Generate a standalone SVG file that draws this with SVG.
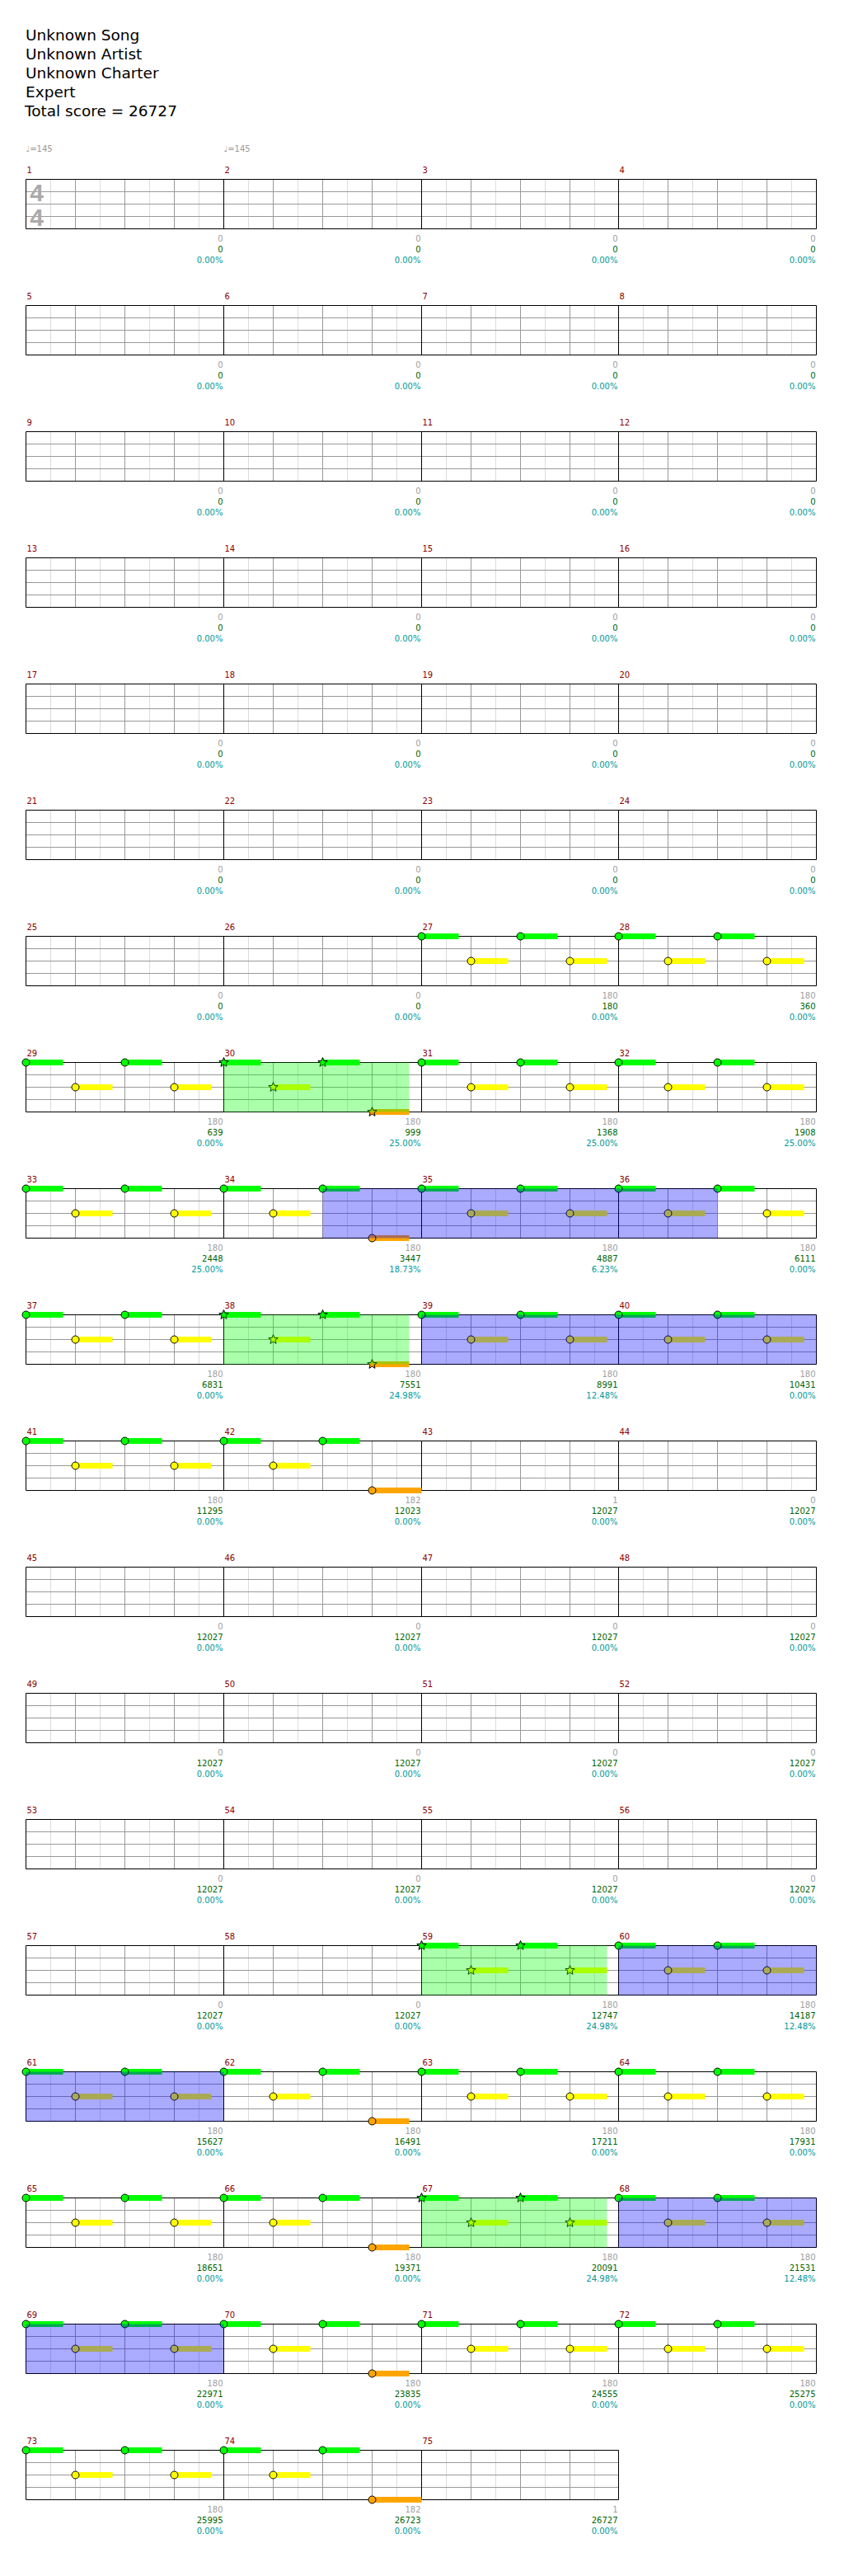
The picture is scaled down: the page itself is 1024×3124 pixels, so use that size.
<svg xmlns="http://www.w3.org/2000/svg" width="1024" height="3124" viewBox="0 0 1024 3124">
<style>
.t{font-family:"DejaVu Sans",sans-serif;font-size:18.5px;fill:#000}
.mn{font-family:"DejaVu Sans",sans-serif;font-size:10px;fill:#8b0000}
.tp{font-family:"DejaVu Sans",sans-serif;font-size:10px;fill:#999}
.ts{font-family:"Liberation Sans",sans-serif;font-weight:bold;font-size:30px;fill:#aaa;text-anchor:middle}
.a{font-family:"DejaVu Sans",sans-serif;font-size:10px;fill:#a0a0a0;text-anchor:end}
.b{font-family:"DejaVu Sans",sans-serif;font-size:10px;fill:#006400;text-anchor:end}
.c{font-family:"DejaVu Sans",sans-serif;font-size:10px;fill:#009999;text-anchor:end}
.lt{stroke:#dcdcdc;fill:none}
.gr{stroke:#999;fill:none}
.bk{stroke:#000;fill:none}
.ng{fill:#0f0;stroke:#000}
.ny{fill:#ff0;stroke:#000}
.no{fill:#ffa500;stroke:#000}
.tg{fill:#0f0}
.ty{fill:#ff0}
.to{fill:#ffa500}
.sp{fill:#0f0;fill-opacity:.333}
.bl{fill:#00f;fill-opacity:.333}
</style>
<defs>
<g id="g4">
<rect x="31.5" y="0" width="959" height="60" fill="#fff"/>
<path class="lt" d="M61.5 0v60M121.5 0v60M181.5 0v60M241.5 0v60M301.5 0v60M361.5 0v60M421.5 0v60M481.5 0v60M541.5 0v60M601.5 0v60M661.5 0v60M721.5 0v60M780.5 0v60M840.5 0v60M900.5 0v60M960.5 0v60"/>
<path class="gr" d="M31.5 15H990.5M31.5 30H990.5M31.5 45H990.5M91.5 0v60M151.5 0v60M211.5 0v60M331.5 0v60M391.5 0v60M451.5 0v60M571.5 0v60M631.5 0v60M691.5 0v60M810.5 0v60M870.5 0v60M930.5 0v60"/>
<path class="bk" d="M31.5 0H990.5V60H31.5ZM271.5 0v60M511.5 0v60M750.5 0v60"/>
</g>
<g id="g3">
<rect x="31.5" y="0" width="719" height="60" fill="#fff"/>
<path class="lt" d="M61.5 0v60M121.5 0v60M181.5 0v60M241.5 0v60M301.5 0v60M361.5 0v60M421.5 0v60M481.5 0v60M541.5 0v60M601.5 0v60M661.5 0v60M721.5 0v60"/>
<path class="gr" d="M31.5 15H750.5M31.5 30H750.5M31.5 45H750.5M91.5 0v60M151.5 0v60M211.5 0v60M331.5 0v60M391.5 0v60M451.5 0v60M571.5 0v60M631.5 0v60M691.5 0v60"/>
<path class="bk" d="M31.5 0H750.5V60H31.5ZM271.5 0v60M511.5 0v60"/>
</g>
<path id="st" d="M0-6L1.53-2.1L5.71-1.85L2.47.8L3.53 4.85L0 2.6L-3.53 4.85L-2.47.8L-5.71-1.85L-1.53-2.1Z"/>
<g id="pN">
<rect class="tg" x="0" y="-3.5" width="45" height="7"/>
<rect class="ty" x="60" y="26.5" width="45" height="7"/>
<rect class="tg" x="120" y="-3.5" width="45" height="7"/>
<rect class="ty" x="180" y="26.5" width="45" height="7"/>
<circle class="ng" cx="0" cy="0" r="4.5"/>
<circle class="ny" cx="60" cy="30" r="4.5"/>
<circle class="ng" cx="120" cy="0" r="4.5"/>
<circle class="ny" cx="180" cy="30" r="4.5"/>
</g>
<g id="pO45">
<rect class="tg" x="0" y="-3.5" width="45" height="7"/>
<rect class="ty" x="60" y="26.5" width="45" height="7"/>
<rect class="tg" x="120" y="-3.5" width="45" height="7"/>
<rect class="to" x="180" y="56.5" width="45" height="7"/>
<circle class="ng" cx="0" cy="0" r="4.5"/>
<circle class="ny" cx="60" cy="30" r="4.5"/>
<circle class="ng" cx="120" cy="0" r="4.5"/>
<circle class="no" cx="180" cy="60" r="4.5"/>
</g>
<g id="pO60">
<rect class="tg" x="0" y="-3.5" width="45" height="7"/>
<rect class="ty" x="60" y="26.5" width="45" height="7"/>
<rect class="tg" x="120" y="-3.5" width="45" height="7"/>
<rect class="to" x="180" y="56.5" width="60" height="7"/>
<circle class="ng" cx="0" cy="0" r="4.5"/>
<circle class="ny" cx="60" cy="30" r="4.5"/>
<circle class="ng" cx="120" cy="0" r="4.5"/>
<circle class="no" cx="180" cy="60" r="4.5"/>
</g>
<g id="pS1">
<rect class="tg" x="0" y="-3.5" width="45" height="7"/>
<rect class="ty" x="60" y="26.5" width="45" height="7"/>
<rect class="tg" x="120" y="-3.5" width="45" height="7"/>
<rect class="to" x="180" y="56.5" width="45" height="7"/>
<use href="#st" class="ng"/>
<use href="#st" x="60" y="30" class="ny"/>
<use href="#st" x="120" class="ng"/>
<use href="#st" x="180" y="60" class="no"/>
</g>
<g id="pS2">
<rect class="tg" x="0" y="-3.5" width="45" height="7"/>
<rect class="ty" x="60" y="26.5" width="45" height="7"/>
<rect class="tg" x="120" y="-3.5" width="45" height="7"/>
<rect class="ty" x="180" y="26.5" width="45" height="7"/>
<use href="#st" class="ng"/>
<use href="#st" x="60" y="30" class="ny"/>
<use href="#st" x="120" class="ng"/>
<use href="#st" x="180" y="30" class="ny"/>
</g>
</defs>

<g id="header">
<text class="t" x="31" y="49">Unknown Song</text>
<text class="t" x="31" y="72">Unknown Artist</text>
<text class="t" x="31" y="95">Unknown Charter</text>
<text class="t" x="31" y="117.5">Expert</text>
<text class="t" x="30" y="140.5">Total score = 26727</text>
</g>

<g id="row1" transform="translate(0,217.5)">
<use href="#g4"/>
<text class="tp" x="31.5" y="-33.5">♩=145</text>
<text class="tp" x="271.5" y="-33.5">♩=145</text>
<text class="ts" x="44.5" y="26.5">4</text>
<text class="ts" x="44.5" y="56.5">4</text>
<text class="mn" x="32.5" y="-8">1</text><text class="mn" x="272.5" y="-8">2</text><text class="mn" x="512.5" y="-8">3</text><text class="mn" x="751.5" y="-8">4</text>
<text class="a" x="270.5" y="75.5">0</text><text class="b" x="270.5" y="88.5">0</text><text class="c" x="270.5" y="101">0.00%</text>
<text class="a" x="510.5" y="75.5">0</text><text class="b" x="510.5" y="88.5">0</text><text class="c" x="510.5" y="101">0.00%</text>
<text class="a" x="749.5" y="75.5">0</text><text class="b" x="749.5" y="88.5">0</text><text class="c" x="749.5" y="101">0.00%</text>
<text class="a" x="989.5" y="75.5">0</text><text class="b" x="989.5" y="88.5">0</text><text class="c" x="989.5" y="101">0.00%</text>
</g>

<g id="row5" transform="translate(0,370.5)">
<use href="#g4"/>
<text class="mn" x="32.5" y="-8">5</text><text class="mn" x="272.5" y="-8">6</text><text class="mn" x="512.5" y="-8">7</text><text class="mn" x="751.5" y="-8">8</text>
<text class="a" x="270.5" y="75.5">0</text><text class="b" x="270.5" y="88.5">0</text><text class="c" x="270.5" y="101">0.00%</text>
<text class="a" x="510.5" y="75.5">0</text><text class="b" x="510.5" y="88.5">0</text><text class="c" x="510.5" y="101">0.00%</text>
<text class="a" x="749.5" y="75.5">0</text><text class="b" x="749.5" y="88.5">0</text><text class="c" x="749.5" y="101">0.00%</text>
<text class="a" x="989.5" y="75.5">0</text><text class="b" x="989.5" y="88.5">0</text><text class="c" x="989.5" y="101">0.00%</text>
</g>

<g id="row9" transform="translate(0,523.5)">
<use href="#g4"/>
<text class="mn" x="32.5" y="-8">9</text><text class="mn" x="272.5" y="-8">10</text><text class="mn" x="512.5" y="-8">11</text><text class="mn" x="751.5" y="-8">12</text>
<text class="a" x="270.5" y="75.5">0</text><text class="b" x="270.5" y="88.5">0</text><text class="c" x="270.5" y="101">0.00%</text>
<text class="a" x="510.5" y="75.5">0</text><text class="b" x="510.5" y="88.5">0</text><text class="c" x="510.5" y="101">0.00%</text>
<text class="a" x="749.5" y="75.5">0</text><text class="b" x="749.5" y="88.5">0</text><text class="c" x="749.5" y="101">0.00%</text>
<text class="a" x="989.5" y="75.5">0</text><text class="b" x="989.5" y="88.5">0</text><text class="c" x="989.5" y="101">0.00%</text>
</g>

<g id="row13" transform="translate(0,676.5)">
<use href="#g4"/>
<text class="mn" x="32.5" y="-8">13</text><text class="mn" x="272.5" y="-8">14</text><text class="mn" x="512.5" y="-8">15</text><text class="mn" x="751.5" y="-8">16</text>
<text class="a" x="270.5" y="75.5">0</text><text class="b" x="270.5" y="88.5">0</text><text class="c" x="270.5" y="101">0.00%</text>
<text class="a" x="510.5" y="75.5">0</text><text class="b" x="510.5" y="88.5">0</text><text class="c" x="510.5" y="101">0.00%</text>
<text class="a" x="749.5" y="75.5">0</text><text class="b" x="749.5" y="88.5">0</text><text class="c" x="749.5" y="101">0.00%</text>
<text class="a" x="989.5" y="75.5">0</text><text class="b" x="989.5" y="88.5">0</text><text class="c" x="989.5" y="101">0.00%</text>
</g>

<g id="row17" transform="translate(0,829.5)">
<use href="#g4"/>
<text class="mn" x="32.5" y="-8">17</text><text class="mn" x="272.5" y="-8">18</text><text class="mn" x="512.5" y="-8">19</text><text class="mn" x="751.5" y="-8">20</text>
<text class="a" x="270.5" y="75.5">0</text><text class="b" x="270.5" y="88.5">0</text><text class="c" x="270.5" y="101">0.00%</text>
<text class="a" x="510.5" y="75.5">0</text><text class="b" x="510.5" y="88.5">0</text><text class="c" x="510.5" y="101">0.00%</text>
<text class="a" x="749.5" y="75.5">0</text><text class="b" x="749.5" y="88.5">0</text><text class="c" x="749.5" y="101">0.00%</text>
<text class="a" x="989.5" y="75.5">0</text><text class="b" x="989.5" y="88.5">0</text><text class="c" x="989.5" y="101">0.00%</text>
</g>

<g id="row21" transform="translate(0,982.5)">
<use href="#g4"/>
<text class="mn" x="32.5" y="-8">21</text><text class="mn" x="272.5" y="-8">22</text><text class="mn" x="512.5" y="-8">23</text><text class="mn" x="751.5" y="-8">24</text>
<text class="a" x="270.5" y="75.5">0</text><text class="b" x="270.5" y="88.5">0</text><text class="c" x="270.5" y="101">0.00%</text>
<text class="a" x="510.5" y="75.5">0</text><text class="b" x="510.5" y="88.5">0</text><text class="c" x="510.5" y="101">0.00%</text>
<text class="a" x="749.5" y="75.5">0</text><text class="b" x="749.5" y="88.5">0</text><text class="c" x="749.5" y="101">0.00%</text>
<text class="a" x="989.5" y="75.5">0</text><text class="b" x="989.5" y="88.5">0</text><text class="c" x="989.5" y="101">0.00%</text>
</g>

<g id="row25" transform="translate(0,1135.5)">
<use href="#g4"/>
<use href="#pN" x="511.5"/><use href="#pN" x="750.5"/>
<text class="mn" x="32.5" y="-8">25</text><text class="mn" x="272.5" y="-8">26</text><text class="mn" x="512.5" y="-8">27</text><text class="mn" x="751.5" y="-8">28</text>
<text class="a" x="270.5" y="75.5">0</text><text class="b" x="270.5" y="88.5">0</text><text class="c" x="270.5" y="101">0.00%</text>
<text class="a" x="510.5" y="75.5">0</text><text class="b" x="510.5" y="88.5">0</text><text class="c" x="510.5" y="101">0.00%</text>
<text class="a" x="749.5" y="75.5">180</text><text class="b" x="749.5" y="88.5">180</text><text class="c" x="749.5" y="101">0.00%</text>
<text class="a" x="989.5" y="75.5">180</text><text class="b" x="989.5" y="88.5">360</text><text class="c" x="989.5" y="101">0.00%</text>
</g>

<g id="row29" transform="translate(0,1288.5)">
<use href="#g4"/>
<use href="#pN" x="31.5"/><use href="#pS1" x="271.5"/><use href="#pN" x="511.5"/><use href="#pN" x="750.5"/>
<rect class="sp" x="271.5" y="0" width="225" height="60"/>
<text class="mn" x="32.5" y="-8">29</text><text class="mn" x="272.5" y="-8">30</text><text class="mn" x="512.5" y="-8">31</text><text class="mn" x="751.5" y="-8">32</text>
<text class="a" x="270.5" y="75.5">180</text><text class="b" x="270.5" y="88.5">639</text><text class="c" x="270.5" y="101">0.00%</text>
<text class="a" x="510.5" y="75.5">180</text><text class="b" x="510.5" y="88.5">999</text><text class="c" x="510.5" y="101">25.00%</text>
<text class="a" x="749.5" y="75.5">180</text><text class="b" x="749.5" y="88.5">1368</text><text class="c" x="749.5" y="101">25.00%</text>
<text class="a" x="989.5" y="75.5">180</text><text class="b" x="989.5" y="88.5">1908</text><text class="c" x="989.5" y="101">25.00%</text>
</g>

<g id="row33" transform="translate(0,1441.5)">
<use href="#g4"/>
<use href="#pN" x="31.5"/><use href="#pO45" x="271.5"/><use href="#pN" x="511.5"/><use href="#pN" x="750.5"/>
<rect class="bl" x="391.5" y="0" width="479" height="60"/>
<text class="mn" x="32.5" y="-8">33</text><text class="mn" x="272.5" y="-8">34</text><text class="mn" x="512.5" y="-8">35</text><text class="mn" x="751.5" y="-8">36</text>
<text class="a" x="270.5" y="75.5">180</text><text class="b" x="270.5" y="88.5">2448</text><text class="c" x="270.5" y="101">25.00%</text>
<text class="a" x="510.5" y="75.5">180</text><text class="b" x="510.5" y="88.5">3447</text><text class="c" x="510.5" y="101">18.73%</text>
<text class="a" x="749.5" y="75.5">180</text><text class="b" x="749.5" y="88.5">4887</text><text class="c" x="749.5" y="101">6.23%</text>
<text class="a" x="989.5" y="75.5">180</text><text class="b" x="989.5" y="88.5">6111</text><text class="c" x="989.5" y="101">0.00%</text>
</g>

<g id="row37" transform="translate(0,1594.5)">
<use href="#g4"/>
<use href="#pN" x="31.5"/><use href="#pS1" x="271.5"/><use href="#pN" x="511.5"/><use href="#pN" x="750.5"/>
<rect class="sp" x="271.5" y="0" width="225" height="60"/>
<rect class="bl" x="511.5" y="0" width="479" height="60"/>
<text class="mn" x="32.5" y="-8">37</text><text class="mn" x="272.5" y="-8">38</text><text class="mn" x="512.5" y="-8">39</text><text class="mn" x="751.5" y="-8">40</text>
<text class="a" x="270.5" y="75.5">180</text><text class="b" x="270.5" y="88.5">6831</text><text class="c" x="270.5" y="101">0.00%</text>
<text class="a" x="510.5" y="75.5">180</text><text class="b" x="510.5" y="88.5">7551</text><text class="c" x="510.5" y="101">24.98%</text>
<text class="a" x="749.5" y="75.5">180</text><text class="b" x="749.5" y="88.5">8991</text><text class="c" x="749.5" y="101">12.48%</text>
<text class="a" x="989.5" y="75.5">180</text><text class="b" x="989.5" y="88.5">10431</text><text class="c" x="989.5" y="101">0.00%</text>
</g>

<g id="row41" transform="translate(0,1747.5)">
<use href="#g4"/>
<use href="#pN" x="31.5"/><use href="#pO60" x="271.5"/>
<text class="mn" x="32.5" y="-8">41</text><text class="mn" x="272.5" y="-8">42</text><text class="mn" x="512.5" y="-8">43</text><text class="mn" x="751.5" y="-8">44</text>
<text class="a" x="270.5" y="75.5">180</text><text class="b" x="270.5" y="88.5">11295</text><text class="c" x="270.5" y="101">0.00%</text>
<text class="a" x="510.5" y="75.5">182</text><text class="b" x="510.5" y="88.5">12023</text><text class="c" x="510.5" y="101">0.00%</text>
<text class="a" x="749.5" y="75.5">1</text><text class="b" x="749.5" y="88.5">12027</text><text class="c" x="749.5" y="101">0.00%</text>
<text class="a" x="989.5" y="75.5">0</text><text class="b" x="989.5" y="88.5">12027</text><text class="c" x="989.5" y="101">0.00%</text>
</g>

<g id="row45" transform="translate(0,1900.5)">
<use href="#g4"/>
<text class="mn" x="32.5" y="-8">45</text><text class="mn" x="272.5" y="-8">46</text><text class="mn" x="512.5" y="-8">47</text><text class="mn" x="751.5" y="-8">48</text>
<text class="a" x="270.5" y="75.5">0</text><text class="b" x="270.5" y="88.5">12027</text><text class="c" x="270.5" y="101">0.00%</text>
<text class="a" x="510.5" y="75.5">0</text><text class="b" x="510.5" y="88.5">12027</text><text class="c" x="510.5" y="101">0.00%</text>
<text class="a" x="749.5" y="75.5">0</text><text class="b" x="749.5" y="88.5">12027</text><text class="c" x="749.5" y="101">0.00%</text>
<text class="a" x="989.5" y="75.5">0</text><text class="b" x="989.5" y="88.5">12027</text><text class="c" x="989.5" y="101">0.00%</text>
</g>

<g id="row49" transform="translate(0,2053.5)">
<use href="#g4"/>
<text class="mn" x="32.5" y="-8">49</text><text class="mn" x="272.5" y="-8">50</text><text class="mn" x="512.5" y="-8">51</text><text class="mn" x="751.5" y="-8">52</text>
<text class="a" x="270.5" y="75.5">0</text><text class="b" x="270.5" y="88.5">12027</text><text class="c" x="270.5" y="101">0.00%</text>
<text class="a" x="510.5" y="75.5">0</text><text class="b" x="510.5" y="88.5">12027</text><text class="c" x="510.5" y="101">0.00%</text>
<text class="a" x="749.5" y="75.5">0</text><text class="b" x="749.5" y="88.5">12027</text><text class="c" x="749.5" y="101">0.00%</text>
<text class="a" x="989.5" y="75.5">0</text><text class="b" x="989.5" y="88.5">12027</text><text class="c" x="989.5" y="101">0.00%</text>
</g>

<g id="row53" transform="translate(0,2206.5)">
<use href="#g4"/>
<text class="mn" x="32.5" y="-8">53</text><text class="mn" x="272.5" y="-8">54</text><text class="mn" x="512.5" y="-8">55</text><text class="mn" x="751.5" y="-8">56</text>
<text class="a" x="270.5" y="75.5">0</text><text class="b" x="270.5" y="88.5">12027</text><text class="c" x="270.5" y="101">0.00%</text>
<text class="a" x="510.5" y="75.5">0</text><text class="b" x="510.5" y="88.5">12027</text><text class="c" x="510.5" y="101">0.00%</text>
<text class="a" x="749.5" y="75.5">0</text><text class="b" x="749.5" y="88.5">12027</text><text class="c" x="749.5" y="101">0.00%</text>
<text class="a" x="989.5" y="75.5">0</text><text class="b" x="989.5" y="88.5">12027</text><text class="c" x="989.5" y="101">0.00%</text>
</g>

<g id="row57" transform="translate(0,2359.5)">
<use href="#g4"/>
<use href="#pS2" x="511.5"/><use href="#pN" x="750.5"/>
<rect class="sp" x="511.5" y="0" width="225" height="60"/>
<rect class="bl" x="750.5" y="0" width="240" height="60"/>
<text class="mn" x="32.5" y="-8">57</text><text class="mn" x="272.5" y="-8">58</text><text class="mn" x="512.5" y="-8">59</text><text class="mn" x="751.5" y="-8">60</text>
<text class="a" x="270.5" y="75.5">0</text><text class="b" x="270.5" y="88.5">12027</text><text class="c" x="270.5" y="101">0.00%</text>
<text class="a" x="510.5" y="75.5">0</text><text class="b" x="510.5" y="88.5">12027</text><text class="c" x="510.5" y="101">0.00%</text>
<text class="a" x="749.5" y="75.5">180</text><text class="b" x="749.5" y="88.5">12747</text><text class="c" x="749.5" y="101">24.98%</text>
<text class="a" x="989.5" y="75.5">180</text><text class="b" x="989.5" y="88.5">14187</text><text class="c" x="989.5" y="101">12.48%</text>
</g>

<g id="row61" transform="translate(0,2512.5)">
<use href="#g4"/>
<use href="#pN" x="31.5"/><use href="#pO45" x="271.5"/><use href="#pN" x="511.5"/><use href="#pN" x="750.5"/>
<rect class="bl" x="31.5" y="0" width="240" height="60"/>
<text class="mn" x="32.5" y="-8">61</text><text class="mn" x="272.5" y="-8">62</text><text class="mn" x="512.5" y="-8">63</text><text class="mn" x="751.5" y="-8">64</text>
<text class="a" x="270.5" y="75.5">180</text><text class="b" x="270.5" y="88.5">15627</text><text class="c" x="270.5" y="101">0.00%</text>
<text class="a" x="510.5" y="75.5">180</text><text class="b" x="510.5" y="88.5">16491</text><text class="c" x="510.5" y="101">0.00%</text>
<text class="a" x="749.5" y="75.5">180</text><text class="b" x="749.5" y="88.5">17211</text><text class="c" x="749.5" y="101">0.00%</text>
<text class="a" x="989.5" y="75.5">180</text><text class="b" x="989.5" y="88.5">17931</text><text class="c" x="989.5" y="101">0.00%</text>
</g>

<g id="row65" transform="translate(0,2665.5)">
<use href="#g4"/>
<use href="#pN" x="31.5"/><use href="#pO45" x="271.5"/><use href="#pS2" x="511.5"/><use href="#pN" x="750.5"/>
<rect class="sp" x="511.5" y="0" width="225" height="60"/>
<rect class="bl" x="750.5" y="0" width="240" height="60"/>
<text class="mn" x="32.5" y="-8">65</text><text class="mn" x="272.5" y="-8">66</text><text class="mn" x="512.5" y="-8">67</text><text class="mn" x="751.5" y="-8">68</text>
<text class="a" x="270.5" y="75.5">180</text><text class="b" x="270.5" y="88.5">18651</text><text class="c" x="270.5" y="101">0.00%</text>
<text class="a" x="510.5" y="75.5">180</text><text class="b" x="510.5" y="88.5">19371</text><text class="c" x="510.5" y="101">0.00%</text>
<text class="a" x="749.5" y="75.5">180</text><text class="b" x="749.5" y="88.5">20091</text><text class="c" x="749.5" y="101">24.98%</text>
<text class="a" x="989.5" y="75.5">180</text><text class="b" x="989.5" y="88.5">21531</text><text class="c" x="989.5" y="101">12.48%</text>
</g>

<g id="row69" transform="translate(0,2818.5)">
<use href="#g4"/>
<use href="#pN" x="31.5"/><use href="#pO45" x="271.5"/><use href="#pN" x="511.5"/><use href="#pN" x="750.5"/>
<rect class="bl" x="31.5" y="0" width="240" height="60"/>
<text class="mn" x="32.5" y="-8">69</text><text class="mn" x="272.5" y="-8">70</text><text class="mn" x="512.5" y="-8">71</text><text class="mn" x="751.5" y="-8">72</text>
<text class="a" x="270.5" y="75.5">180</text><text class="b" x="270.5" y="88.5">22971</text><text class="c" x="270.5" y="101">0.00%</text>
<text class="a" x="510.5" y="75.5">180</text><text class="b" x="510.5" y="88.5">23835</text><text class="c" x="510.5" y="101">0.00%</text>
<text class="a" x="749.5" y="75.5">180</text><text class="b" x="749.5" y="88.5">24555</text><text class="c" x="749.5" y="101">0.00%</text>
<text class="a" x="989.5" y="75.5">180</text><text class="b" x="989.5" y="88.5">25275</text><text class="c" x="989.5" y="101">0.00%</text>
</g>

<g id="row73" transform="translate(0,2971.5)">
<use href="#g3"/>
<use href="#pN" x="31.5"/><use href="#pO60" x="271.5"/>
<text class="mn" x="32.5" y="-8">73</text><text class="mn" x="272.5" y="-8">74</text><text class="mn" x="512.5" y="-8">75</text>
<text class="a" x="270.5" y="75.5">180</text><text class="b" x="270.5" y="88.5">25995</text><text class="c" x="270.5" y="101">0.00%</text>
<text class="a" x="510.5" y="75.5">182</text><text class="b" x="510.5" y="88.5">26723</text><text class="c" x="510.5" y="101">0.00%</text>
<text class="a" x="749.5" y="75.5">1</text><text class="b" x="749.5" y="88.5">26727</text><text class="c" x="749.5" y="101">0.00%</text>
</g>
<g id="connectors"/>
</svg>
